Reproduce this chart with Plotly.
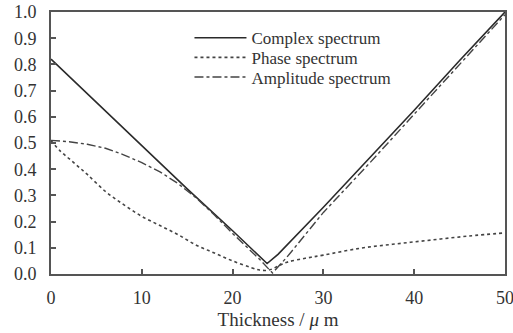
import plotly.graph_objects as go

# Data
complex_x = [0, 5, 10, 15, 20, 23, 23.8, 25, 30, 35, 40, 45, 50]
complex_y = [0.82, 0.655, 0.49, 0.325, 0.165, 0.065, 0.04, 0.075, 0.255, 0.44, 0.625, 0.815, 1.0]

phase_x = [0, 1, 2, 3, 4, 6, 8, 10, 12, 14, 16, 18, 20, 22, 23, 24, 25, 26, 28, 30, 34, 38, 42, 46, 50]
phase_y = [0.51, 0.47, 0.44, 0.41, 0.38, 0.315, 0.265, 0.22, 0.185, 0.15, 0.11, 0.08, 0.05,
           0.025, 0.015, 0.015, 0.03, 0.045, 0.06, 0.072, 0.098, 0.115, 0.13, 0.145, 0.157]

amp_x = [0, 2, 4, 6, 8, 10, 12, 14, 16, 18, 20, 22, 23, 24, 24.4, 26, 30, 35, 40, 45, 50]
amp_y = [0.51, 0.505, 0.495, 0.48, 0.455, 0.425, 0.39, 0.345, 0.29, 0.225, 0.155, 0.09,
         0.055, 0.018, 0.004, 0.065, 0.235, 0.42, 0.61, 0.80, 0.99]

x_ticks = [0, 10, 20, 30, 40, 50]
y_ticks = [0.0, 0.1, 0.2, 0.3, 0.4, 0.5, 0.6, 0.7, 0.8, 0.9, 1.0]
y_tick_labels = ["0.0", "0.1", "0.2", "0.3", "0.4", "0.5", "0.6", "0.7", "0.8", "0.9", "1.0"]

FONT = "Liberation Serif, Times New Roman, serif"
INK = "#333333"
AX = "#555555"

fig = go.Figure()
fig.add_trace(go.Scatter(x=complex_x, y=complex_y, mode="lines", name="Complex spectrum",
                         legend="legend",
                         line=dict(color="#2a2a2a", width=1.6, dash="solid")))
fig.add_trace(go.Scatter(x=phase_x, y=phase_y, mode="lines", name="Phase spectrum",
                         legend="legend2",
                         line=dict(color="#444444", width=1.6, dash="dot"), line_shape="spline"))
fig.add_trace(go.Scatter(x=amp_x, y=amp_y, mode="lines", name="Amplitude spectrum",
                         legend="legend3",
                         line=dict(color="#444444", width=1.4, dash="dashdot")))

leg_common = dict(x=0.305, xanchor="left", yanchor="middle", bgcolor="rgba(0,0,0,0)",
                  font=dict(family=FONT, size=17, color=INK), itemwidth=52)

fig.update_layout(
    width=513, height=333,
    margin=dict(l=51, r=8, t=12, b=59),
    paper_bgcolor="white", plot_bgcolor="white",
    font=dict(family=FONT, color=INK, size=18),
    showlegend=True,
    legend=dict(y=0.90, **leg_common),
    legend2=dict(y=0.825, **leg_common),
    legend3=dict(y=0.75, **leg_common),
)
fig.update_xaxes(range=[0, 50], tickvals=x_ticks, ticks="inside", ticklen=5, tickwidth=1.5,
                 tickcolor=AX, showline=True, linecolor=AX, linewidth=2, automargin=False,
                 mirror=True, showgrid=False, zeroline=False, ticklabelstandoff=6,
                 ticklabeloverflow="allow",
                 title=dict(text="Thickness / <i>μ</i> m", font=dict(size=19), standoff=6),
                 tickfont=dict(size=18))
fig.update_yaxes(range=[0, 1.0], tickvals=y_ticks, ticktext=y_tick_labels, ticks="inside",
                 ticklen=5, tickwidth=1.5, tickcolor=AX, showline=True, automargin=False,
                 linecolor=AX, linewidth=2, mirror=True, showgrid=False,
                 ticklabeloverflow="allow",
                 zeroline=False, ticklabelstandoff=9, tickfont=dict(size=18))

fig.write_html("out.html")
